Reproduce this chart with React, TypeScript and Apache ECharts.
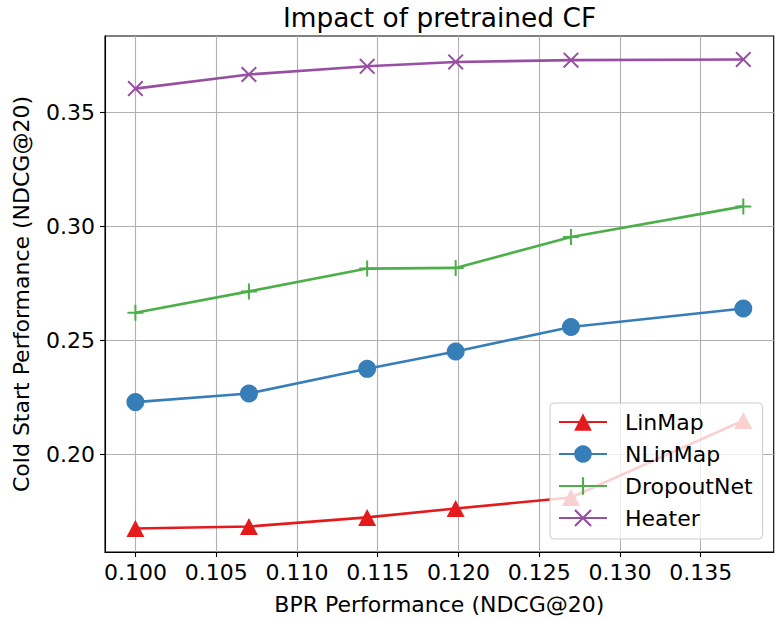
import React, { useEffect, useRef } from 'react';
import * as echarts from 'echarts';

const bprPerformance = [0.1, 0.10703, 0.11435, 0.11983, 0.12697, 0.13764];
const linMap = [0.1673, 0.1682, 0.1722, 0.1761, 0.1809, 0.2147];
const nLinMap = [0.2228, 0.2266, 0.2374, 0.245, 0.2558, 0.2639];
const dropoutNet = [0.262, 0.2714, 0.2814, 0.2817, 0.2953, 0.3087];
const heater = [0.3604, 0.3666, 0.3702, 0.3721, 0.3729, 0.3732];
const seriesNames = ['LinMap', 'NLinMap', 'DropoutNet', 'Heater'];
const xTicks = [0.1, 0.105, 0.11, 0.115, 0.12, 0.125, 0.13, 0.135];
const yTicks = [0.2, 0.25, 0.3, 0.35];

const FONT = 'DejaVu Sans';
const PLUS = 'path://M7,0 H9 V7 H16 V9 H9 V16 H7 V9 H0 V7 H7 Z';
const CROSS =
  'path://M0,1.4 L1.4,0 L8,6.6 L14.6,0 L16,1.4 L9.4,8 L16,14.6 L14.6,16 L8,9.4 L1.4,16 L0,14.6 L6.6,8 Z';

function padRange(vals: number[]): [number, number] {
  const lo = Math.min(...vals);
  const hi = Math.max(...vals);
  const m = (hi - lo) * 0.05;
  return [lo - m, hi + m];
}

export default function App() {
  const ref = useRef<HTMLDivElement>(null);
  useEffect(() => {
    if (!ref.current) return;
    const chart = echarts.init(ref.current, undefined, { renderer: 'svg' });
    const [xMin, xMax] = padRange(bprPerformance);
    const [yMin, yMax] = padRange([...linMap, ...nLinMap, ...dropoutNet, ...heater]);
    const mk = (name: string, vals: number[], color: string, symbol: string, size: number | number[]) => ({
      name,
      type: 'line',
      data: bprPerformance.map((x, i) => [x, vals[i]]),
      symbol,
      symbolSize: size,
      showAllSymbol: true,
      clip: false,
      lineStyle: { color, width: 2.6 },
      itemStyle: { color, borderWidth: 0 },
      emphasis: { disabled: true },
    });
    const tickStyle = { color: '#000', width: 1.1 };
    chart.setOption({
      animation: false,
      textStyle: { fontFamily: FONT },
      grid: {
        left: 105,
        right: 1.3,
        top: 36,
        bottom: 69,
        show: true,
        borderColor: '#000',
        borderWidth: 1.1,
        backgroundColor: 'transparent',
      },
      graphic: [
        {
          type: 'text',
          x: 439.5,
          y: 17,
          style: {
            text: 'Impact of pretrained CF',
            fontSize: 26.4,
            fontFamily: FONT,
            fill: '#000',
            align: 'center',
            verticalAlign: 'middle',
          },
        },
      ],
      xAxis: {
        type: 'value',
        min: xMin,
        max: xMax,
        name: 'BPR Performance (NDCG@20)',
        nameLocation: 'middle',
        nameGap: 41,
        nameTextStyle: { fontSize: 22, color: '#000', fontFamily: FONT },
        axisLine: { show: true, lineStyle: tickStyle },
        axisTick: { show: true, length: 5, lineStyle: tickStyle, customValues: xTicks },
        axisLabel: {
          customValues: xTicks,
          formatter: (v: number) => v.toFixed(3),
          fontSize: 22,
          color: '#000',
          margin: 9,
          fontFamily: FONT,
        },
        splitLine: { show: true, lineStyle: { color: '#b0b0b0', width: 1.1 } },
      },
      yAxis: {
        type: 'value',
        min: yMin,
        max: yMax,
        name: 'Cold Start Performance (NDCG@20)',
        nameLocation: 'middle',
        nameGap: 73,
        nameTextStyle: { fontSize: 22, color: '#000', fontFamily: FONT },
        axisLine: { show: true, lineStyle: tickStyle },
        axisTick: { show: true, length: 5, lineStyle: tickStyle, customValues: yTicks },
        axisLabel: {
          customValues: yTicks,
          formatter: (v: number) => v.toFixed(2),
          fontSize: 22,
          color: '#000',
          margin: 10,
          fontFamily: FONT,
        },
        splitLine: { show: true, lineStyle: { color: '#b0b0b0', width: 1.1 } },
      },
      legend: {
        orient: 'vertical',
        left: 550,
        top: 403,
        data: seriesNames,
        itemWidth: 48,
        itemHeight: 22,
        itemGap: 10,
        padding: [8, 10, 10, 8],
        backgroundColor: 'rgba(255,255,255,0.8)',
        borderColor: '#cccccc',
        borderWidth: 1,
        borderRadius: 4,
        textStyle: { fontSize: 22, color: '#000', fontFamily: FONT, padding: [0, 0, 0, 13] },
      },
      series: [
        mk(seriesNames[0], linMap, '#e41a1c', 'triangle', [18, 17]),
        mk(seriesNames[1], nLinMap, '#377eb8', 'circle', 18),
        mk(seriesNames[2], dropoutNet, '#4daf4a', PLUS, 16),
        mk(seriesNames[3], heater, '#984ea3', CROSS, 16),
      ],
    });
    return () => chart.dispose();
  }, []);
  return (
    <div
      ref={ref}
      style={{ position: 'absolute', left: 0, top: 0, width: 775, height: 621, background: '#fff' }}
    />
  );
}
